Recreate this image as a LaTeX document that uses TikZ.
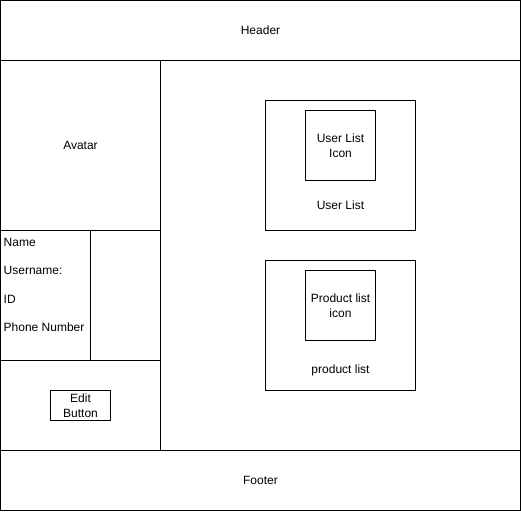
\documentclass[tikz,border=0pt]{standalone}
\usepackage{fontspec}
\setmainfont{Liberation Sans}
\begin{document}
\begin{tikzpicture}[x=1pt,y=-1pt,
  box/.style={draw=black,line width=1pt},
  lbl/.style={font=\fontsize{12}{15}\selectfont,inner sep=0pt,align=center},
  lft/.style={font=\fontsize{12}{15}\selectfont,inner sep=0pt,anchor=west}]
\useasboundingbox[fill=white] (-0.5,-0.5) rectangle (520.5,510.5);
\draw[box] (0.5,0.5) rectangle (520,60) coordinate (hdr);
\node[lbl] (header) at (260,30) {Header};
\draw[box] (0.5,60) rectangle (160,230);
\node[lbl] (avatar) at (80,145) {Avatar};
\draw[box] (0.5,230) rectangle (90,360);
\draw[box] (90,230) rectangle (160,360);
\node[lft] (name) at (3,242) {Name};
\node[lft] (user) at (3,270) {Username:};
\node[lft] (id) at (3,299) {ID};
\node[lft] (phone) at (3,327) {Phone Number};
\draw[box] (0.5,360) rectangle (160,450);
\draw[box] (50,390) rectangle (110,420);
\node[lbl] (edit) at (80,405) {Edit\\Button};
\draw[box] (160,60) rectangle (520,450);
\draw[box] (265,100) rectangle (415,230);
\draw[box] (305,110) rectangle (375,180);
\node[lbl] (uli) at (340,145) {User List\\Icon};
\node[lbl] (ul) at (340,205) {User List};
\draw[box] (265,260) rectangle (415,390);
\draw[box] (305,270) rectangle (375,340);
\node[lbl] (pli) at (340,305) {Product list\\icon};
\node[lbl] (pl) at (340,370) {product list};
\draw[box] (0.5,450) rectangle (520,510);
\node[lbl] (footer) at (260,480) {Footer};
\end{tikzpicture}
\end{document}
